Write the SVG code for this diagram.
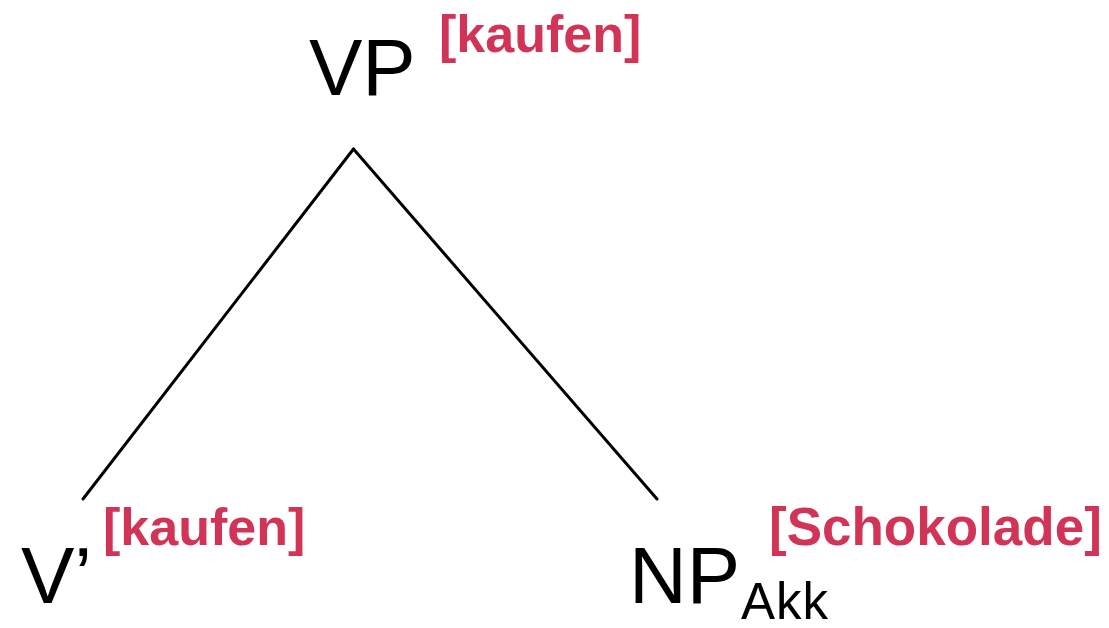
<svg xmlns="http://www.w3.org/2000/svg" width="1109" height="628" viewBox="0 0 1109 628">
<style>
.lbl{font-family:"Liberation Sans",Arial,sans-serif;fill:#000;}
.big{font-size:80px;}
.sub{font-size:51px;letter-spacing:1px;}
.feat{font-family:"Liberation Sans",Arial,sans-serif;font-weight:bold;font-size:52px;fill:#d13457;}
.edge{stroke:#000;stroke-width:3;fill:none;stroke-linecap:round;}
</style>
<rect width="1109" height="628" fill="#fff"/>
<g id="connectors">
<line class="edge" x1="353.5" y1="149" x2="83" y2="499"/>
<line class="edge" x1="353.5" y1="149" x2="657" y2="499"/>
</g>
<g id="node-vp">
<text class="lbl big" x="309" y="95">VP</text>
<text class="feat" x="439" y="52">[kaufen]</text>
</g>
<g id="node-vbar">
<text class="lbl big" x="21" y="603">V’</text>
<text class="feat" x="103" y="545">[kaufen]</text>
</g>
<g id="node-np">
<text class="lbl big" x="629" y="603">NP<tspan class="sub" x="741" y="619">Akk</tspan></text>
<text class="feat" x="769" y="545" style="font-size:53px">[Schokolade]</text>
</g>
</svg>
